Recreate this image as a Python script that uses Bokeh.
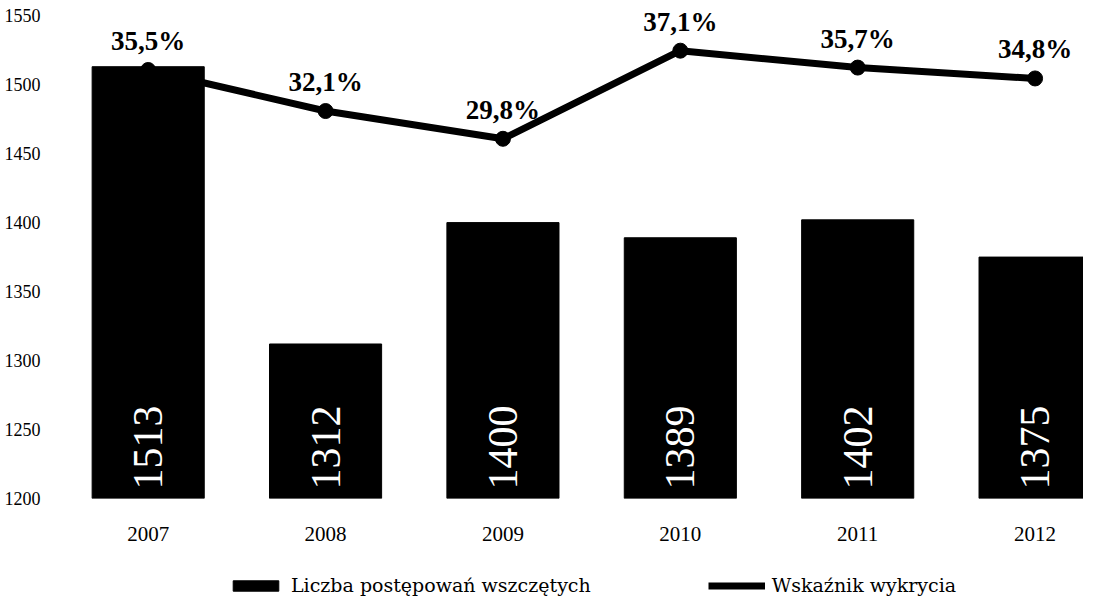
import math
from bokeh.plotting import figure
from bokeh.layouts import column
from bokeh.models import (Range1d, FixedTicker, ColumnDataSource, LabelSet,
                          Legend, LegendItem)
from bokeh.embed import file_html
from bokeh.resources import INLINE

# ---- data ----
years = ["2007", "2008", "2009", "2010", "2011", "2012"]
cases = [1513, 1312, 1400, 1389, 1402, 1375]
detection = [35.5, 32.1, 29.8, 37.1, 35.7, 34.8]
detection_labels = ["35,5%", "32,1%", "29,8%", "37,1%", "35,7%", "34,8%"]
y_ticks = [1200, 1250, 1300, 1350, 1400, 1450, 1500, 1550]
legend_labels = ["Liczba postępowań wszczętych", "Wskaźnik wykrycia"]

Y_START, Y_TOP_TICK, Y_END = 1200, 1550, 1561
PCT_AXIS_MAX = 40.0  # hidden secondary axis 0-40 %
PCT_END = PCT_AXIS_MAX * (Y_END - Y_START) / (Y_TOP_TICK - Y_START)

SERIF = "Liberation Serif"

xs = list(range(len(years)))
src = ColumnDataSource(dict(
    x=xs,
    cases=cases,
    cases_txt=[str(c) for c in cases],
    base=[Y_START] * len(xs),
    det=detection,
    det_txt=detection_labels,
))

p = figure(width=1083, height=547,
           x_range=Range1d(-0.5, 5.273), y_range=Range1d(Y_START, Y_END),
           output_backend="svg", toolbar_location=None,
           min_border_left=59, min_border_right=0,
           min_border_top=0, min_border_bottom=49)
p.extra_y_ranges = {"pct": Range1d(0, PCT_END)}

p.outline_line_color = None
p.xgrid.grid_line_color = None
p.ygrid.grid_line_color = None
p.background_fill_color = "white"

bars = p.vbar(x="x", top="cases", bottom=Y_START, width=0.632,
              fill_color="black", line_color="black", source=src)

line = p.line(x="x", y="det", y_range_name="pct", line_width=7,
              line_color="black", source=src)
pts = p.scatter(x="x", y="det", y_range_name="pct", size=15,
                fill_color="black", line_color="black", source=src)

# value labels inside bars (vertical, white)
p.add_layout(LabelSet(x="x", y="base", text="cases_txt", source=src,
                      angle=math.pi / 2, text_align="left",
                      text_baseline="middle", y_offset=9,
                      text_color="white", text_font=SERIF,
                      text_font_size="42px"))

# percentage labels above points
p.add_layout(LabelSet(x="x", y="det", y_range_name="pct", text="det_txt",
                      source=src, text_align="center",
                      text_baseline="alphabetic", y_offset=20,
                      text_color="black", text_font=SERIF,
                      text_font_style="bold", text_font_size="27px"))

# axes
p.yaxis.ticker = FixedTicker(ticks=y_ticks)
p.yaxis.axis_line_color = None
p.yaxis.major_tick_line_color = None
p.yaxis.minor_tick_line_color = None
p.yaxis.major_tick_out = 0
p.yaxis.major_tick_in = 0
p.yaxis.major_label_standoff = 19
p.yaxis.major_label_text_font = SERIF
p.yaxis.major_label_text_font_size = "18px"
p.yaxis.major_label_text_color = "black"

p.xaxis.ticker = FixedTicker(ticks=xs)
p.xaxis.major_label_overrides = {i: y for i, y in zip(xs, years)}
p.xaxis.axis_line_color = None
p.xaxis.major_tick_line_color = None
p.xaxis.minor_tick_line_color = None
p.xaxis.major_label_standoff = 22
p.xaxis.major_label_text_font = SERIF
p.xaxis.major_label_text_font_size = "21px"
p.xaxis.major_label_text_color = "black"

# ---- legend strip below the chart (proxy glyphs kept outside its view) ----
p2 = figure(width=1083, height=49, x_range=Range1d(0, 1), y_range=Range1d(0, 1),
            x_axis_type=None, y_axis_type=None,
            output_backend="svg", toolbar_location=None,
            min_border_left=0, min_border_right=0,
            min_border_top=0, min_border_bottom=0)
p2.outline_line_color = None
p2.xgrid.grid_line_color = None
p2.ygrid.grid_line_color = None
proxy = ColumnDataSource(dict(x=[-5], y=[-5]))
lg_bar = p2.vbar(x="x", top="y", width=0.1, fill_color="black",
                 line_color="black", source=proxy)
lg_line = p2.line(x="x", y="y", line_width=7, line_color="black", source=proxy)
lg_pts = p2.scatter(x="x", y="y", size=15, fill_color="black",
                    line_color="black", source=proxy)

legend = Legend(items=[
    LegendItem(label=legend_labels[0], renderers=[lg_bar]),
    LegendItem(label=legend_labels[1], renderers=[lg_line, lg_pts]),
], orientation="horizontal", location=(168, 0),
    glyph_width=57, glyph_height=13, label_standoff=7, spacing=117,
    label_height=18,
    padding=0, margin=0, border_line_color=None, background_fill_alpha=0,
    label_text_font="DejaVu Serif", label_text_font_size="19px",
    label_text_color="black")
p2.add_layout(legend, "center")

layout = column(p, p2, spacing=0)
open("out.html", "w").write(file_html(layout, INLINE))
